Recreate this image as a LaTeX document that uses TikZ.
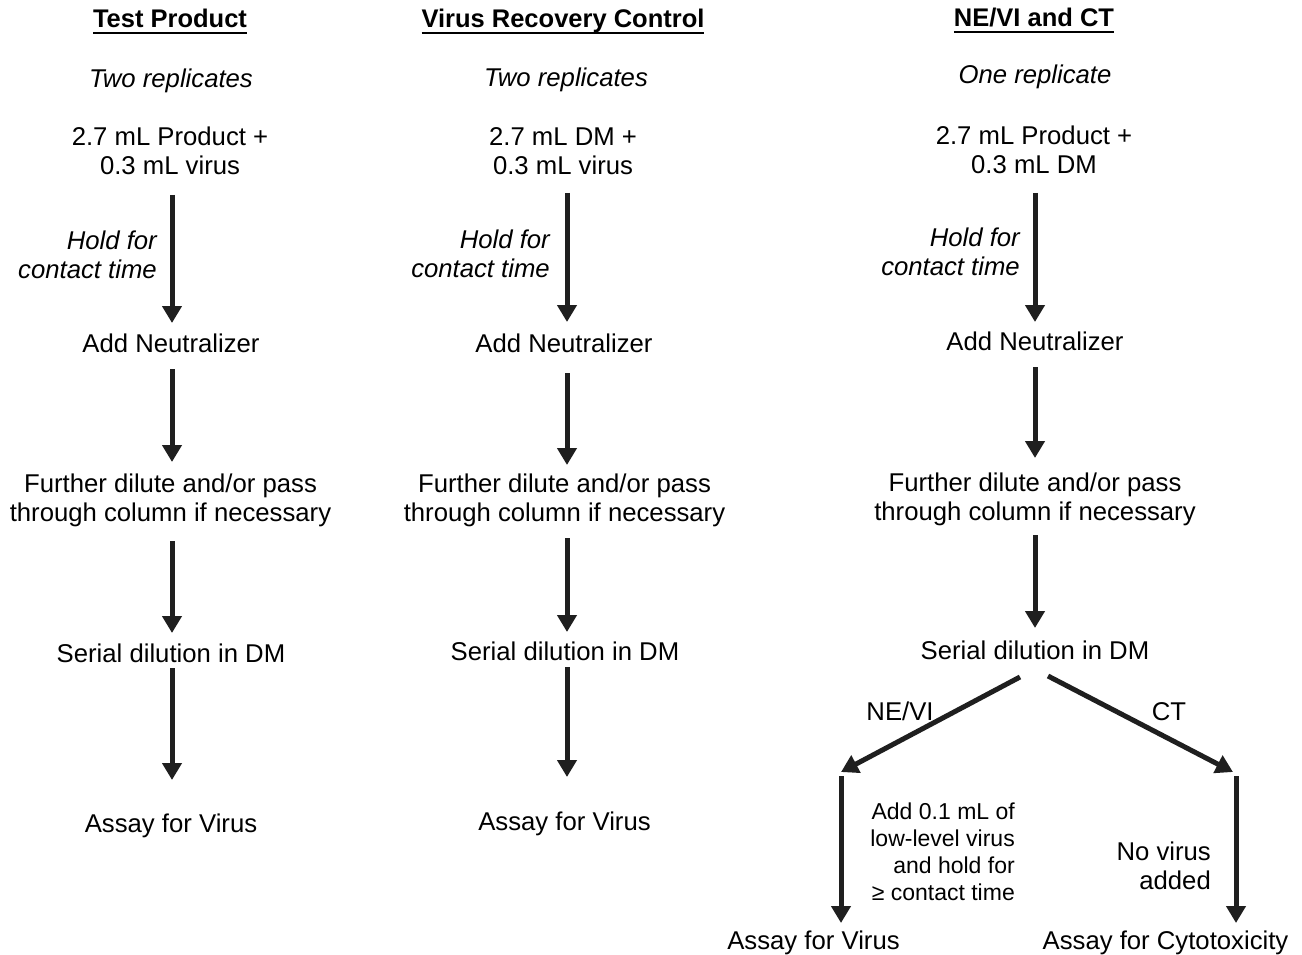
\documentclass[tikz,border=0pt]{standalone}
\usepackage{fontspec}
\setmainfont{Liberation Sans}
\usetikzlibrary{arrows.meta}
\newcommand\myul[1]{\setbox0\hbox{#1}\rlap{\rule[-6pt]{\wd0}{2.3pt}}\box0}
\tikzset{
  txt/.style={inner sep=0pt, anchor=base, align=center, font=\fontsize{25.7}{29}\selectfont},
  ttl/.style={txt, font=\fontsize{25.5}{29}\selectfont\bfseries},
  itl/.style={txt, font=\fontsize{25.7}{29}\selectfont\itshape},
  holdtxt/.style={itl, anchor=base east, align=right},
  small/.style={inner sep=0pt, anchor=base east, align=right, font=\fontsize{23}{26.7}\selectfont},
  arr/.style={draw=black!88, line width=5pt, -{Triangle[width=19pt,length=17pt]}}
}
\begin{document}
\begin{tikzpicture}[x=1pt,y=-1pt]
\useasboundingbox (0,0) rectangle (1302,955);
% ---------- column 1
\node[ttl] (t1) at (170,28) {\myul{Test Product}};
\node[itl] (r1) at (171,88) {Two replicates};
\node[txt] (m1) at (170,175) {2.7 mL Product +\\0.3 mL virus};
\node[holdtxt] (h1) at (157,278) {Hold for\\contact time};
\node[txt] (n1) at (171,352) {Add Neutralizer};
\node[txt] (f1) at (170.5,521) {Further dilute and/or pass\\through column if necessary};
\node[txt] (s1) at (171,662) {Serial dilution in DM};
\node[txt] (a1) at (171,832) {Assay for Virus};
% ---------- column 2
\node[ttl] (t2) at (563,28) {\myul{Virus Recovery Control}};
\node[itl] (r2) at (566,87) {Two replicates};
\node[txt] (m2) at (563,175) {2.7 mL DM +\\0.3 mL virus};
\node[holdtxt] (h2) at (550,277) {Hold for\\contact time};
\node[txt] (n2) at (564,352) {Add Neutralizer};
\node[txt] (f2) at (564.5,521) {Further dilute and/or pass\\through column if necessary};
\node[txt] (s2) at (565,660) {Serial dilution in DM};
\node[txt] (a2) at (564.5,830) {Assay for Virus};
% ---------- column 3
\node[ttl] (t3) at (1034,27) {\myul{NE/VI and CT}};
\node[itl] (r3) at (1035,84) {One replicate};
\node[txt] (m3) at (1034,174) {2.7 mL Product +\\0.3 mL DM};
\node[holdtxt] (h3) at (1020,275) {Hold for\\contact time};
\node[txt] (n3) at (1035,350) {Add Neutralizer};
\node[txt] (f3) at (1035,520) {Further dilute and/or pass\\through column if necessary};
\node[txt] (s3) at (1035,659) {Serial dilution in DM};
\node[txt] (lv) at (900,720) {NE/VI};
\node[txt] (lc) at (1169,720) {CT};
\node[small] (add) at (1015,900) {Add 0.1 mL of\\low-level virus\\and hold for\\≥ contact time};
\node[txt, anchor=base east, align=right] (nv) at (1211,889) {No virus\\added};
\node[txt] (a3) at (813.5,949) {Assay for Virus};
\node[txt] (c3) at (1165.5,949) {Assay for Cytotoxicity};
\coordinate (bl) at (841,776);
\coordinate (br) at (1236,776);
% ---------- arrows column 1
\draw[arr] ([shift={(2,20)}]m1.base) -- ([shift={(1,-29)}]n1.base);
\draw[arr] ([shift={(1,17)}]n1.base) -- ([shift={(1.5,-59)}]f1.base);
\draw[arr] ([shift={(1.5,20)}]f1.base) -- ([shift={(1,-29)}]s1.base);
\draw[arr] ([shift={(1,6)}]s1.base) -- ([shift={(1,-52)}]a1.base);
% ---------- arrows column 2
\draw[arr] ([shift={(4,18)}]m2.base) -- ([shift={(3,-30)}]n2.base);
\draw[arr] ([shift={(3,21)}]n2.base) -- ([shift={(2.5,-56)}]f2.base);
\draw[arr] ([shift={(2.5,17)}]f2.base) -- ([shift={(2,-28)}]s2.base);
\draw[arr] ([shift={(2,7)}]s2.base) -- ([shift={(2.5,-53)}]a2.base);
% ---------- arrows column 3
\draw[arr] ([shift={(1,19)}]m3.base) -- ([shift={(0,-28)}]n3.base);
\draw[arr] ([shift={(0,17)}]n3.base) -- ([shift={(0,-62)}]f3.base);
\draw[arr] ([shift={(0,15)}]f3.base) -- ([shift={(0,-31)}]s3.base);
\draw[arr] ([shift={(-15,18)}]s3.base) -- ([shift={(0,-4)}]bl);
\draw[arr] ([shift={(13,17)}]s3.base) -- ([shift={(-3,-4)}]br);
\draw[arr] (bl) -- ([shift={(27.5,-26)}]a3.base);
\draw[arr] (br) -- ([shift={(70.5,-26)}]c3.base);
\end{tikzpicture}
\end{document}
